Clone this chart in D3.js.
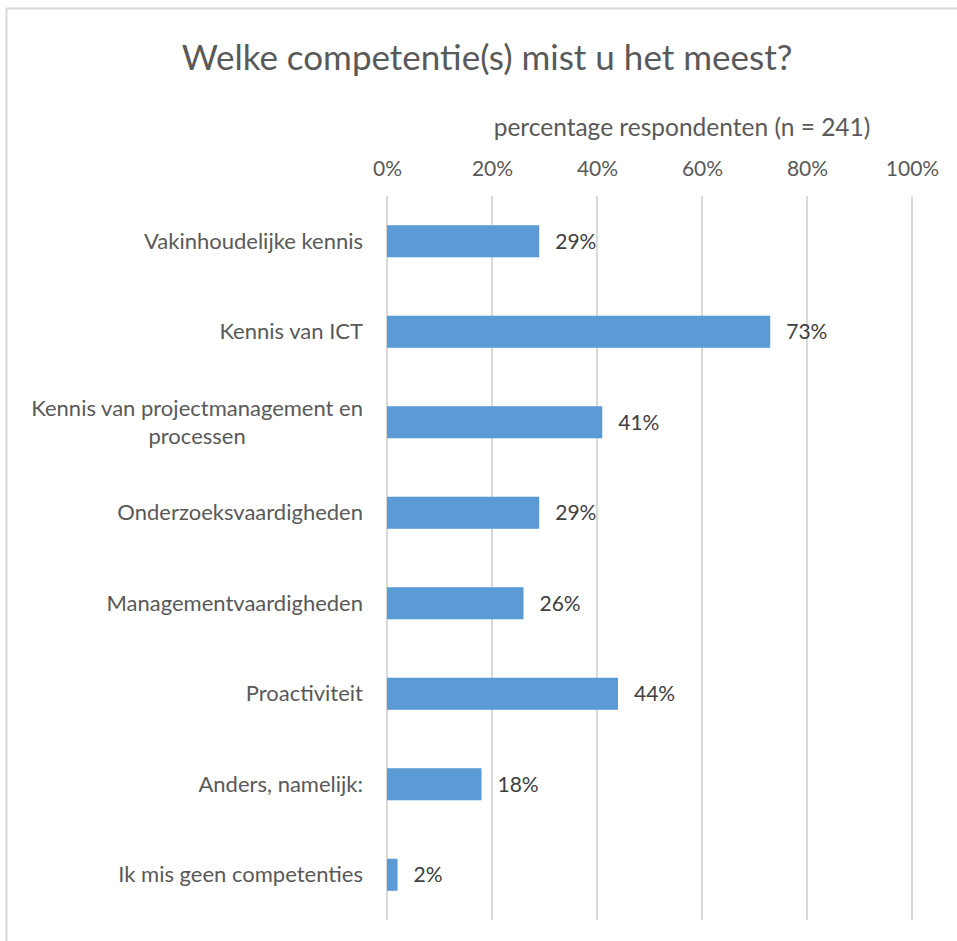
<!DOCTYPE html>
<html>
<head>
<meta charset="utf-8">
<script src="https://cdn.jsdelivr.net/npm/d3@7"></script>
<style>
  body { margin: 0; background: #fff; }
  text { font-family: Lato, "Open Sans", sans-serif; }
</style>
</head>
<body>
<div id="chart"></div>
<script>
///////////////////// Data ////////////////////////
var categories = ["Vakinhoudelijke kennis",
                  "Kennis van ICT",
                  "Kennis van projectmanagement en processen",
                  "Onderzoeksvaardigheden",
                  "Managementvaardigheden",
                  "Proactiviteit",
                  "Anders, namelijk:",
                  "Ik mis geen competenties"];
var values = [29, 73, 41, 29, 26, 44, 18, 2];
var ticks = [0, 20, 40, 60, 80, 100];
var chartTitle = "Welke competentie(s) mist u het meest?";
var axisTitle = "percentage respondenten (n = 241)";
// labels that Excel wrapped onto two lines
var wrapped = {"Kennis van projectmanagement en processen": ["Kennis van projectmanagement en", "processen"]};
///////////////////////////////////////////////////

var width = 957, height = 941;
var plot = {left: 387, right: 912, top: 196, bottom: 920};

var svg = d3.select("#chart").append("svg")
    .attr("width", width)
    .attr("height", height);

// chart area border (Excel frame, cut at right and bottom)
svg.append("rect")
    .attr("x", 6.5).attr("y", 8.5)
    .attr("width", width + 10).attr("height", height + 10)
    .attr("fill", "#fff")
    .attr("stroke", "#d9d9d9")
    .attr("stroke-width", 2);

var x = d3.scaleLinear().domain([0, 100]).range([plot.left, plot.right]);
var y = d3.scaleBand().domain(categories)
    .range([plot.top, plot.bottom])
    .paddingInner(0.646).paddingOuter(0.323);

// Title
svg.append("text")
    .attr("x", 487).attr("y", 70)
    .attr("text-anchor", "middle")
    .attr("fill", "#595959")
    .style("font-size", "35px")
    .text(chartTitle);

// axis title
svg.append("text")
    .attr("x", 682).attr("y", 136)
    .attr("text-anchor", "middle")
    .attr("fill", "#595959")
    .style("font-size", "24.5px")
    .text(axisTitle);

// gridlines
svg.append("g").selectAll("line")
    .data(ticks).enter().append("line")
    .attr("x1", function (d) { return x(d); })
    .attr("x2", function (d) { return x(d); })
    .attr("y1", plot.top).attr("y2", plot.bottom)
    .attr("stroke", "#d9d9d9")
    .attr("stroke-width", 2);

// top axis labels
var axis = d3.axisTop(x).tickValues(ticks)
    .tickFormat(function (d) { return d + "%"; })
    .tickSize(0).tickPadding(0);
var gx = svg.append("g")
    .attr("transform", "translate(0,176)")
    .call(axis);
gx.select(".domain").remove();
gx.selectAll("text")
    .attr("fill", "#595959")
    .style("font-size", "21px")
    .style("font-family", "Lato, 'Open Sans', sans-serif");

// bars
svg.append("g").selectAll("rect")
    .data(values).enter().append("rect")
    .attr("x", x(0))
    .attr("y", function (d, i) { return y(categories[i]); })
    .attr("width", function (d) { return x(d) - x(0); })
    .attr("height", y.bandwidth())
    .attr("fill", "#5b9bd5");

// value labels
svg.append("g").selectAll("text")
    .data(values).enter().append("text")
    .attr("x", function (d) { return x(d) + 16; })
    .attr("y", function (d, i) { return y(categories[i]) + y.bandwidth() / 2; })
    .attr("dy", "0.35em")
    .attr("fill", "#404040")
    .style("font-size", "21px")
    .text(function (d) { return d + "%"; });

// category labels
var labelX = 363;
var cat = svg.append("g").selectAll("g")
    .data(categories).enter().append("g")
    .attr("transform", function (d) { return "translate(0," + (y(d) + y.bandwidth() / 2) + ")"; });

cat.each(function (d) {
    var g = d3.select(this);
    var lines = wrapped[d] || [d];
    var lh = 28;
    var t0 = g.append("text")
        .attr("x", labelX)
        .attr("y", -(lines.length - 1) * lh / 2)
        .attr("dy", "0.35em")
        .attr("text-anchor", "end")
        .attr("fill", "#595959")
        .style("font-size", "22px")
        .text(lines[0]);
    if (lines.length > 1) {
        var w = t0.node().getComputedTextLength();
        for (var k = 1; k < lines.length; k++) {
            g.append("text")
                .attr("x", labelX - w / 2)
                .attr("y", -(lines.length - 1) * lh / 2 + k * lh)
                .attr("dy", "0.35em")
                .attr("text-anchor", "middle")
                .attr("fill", "#595959")
                .style("font-size", "22px")
                .text(lines[k]);
        }
    }
});
</script>
</body>
</html>
